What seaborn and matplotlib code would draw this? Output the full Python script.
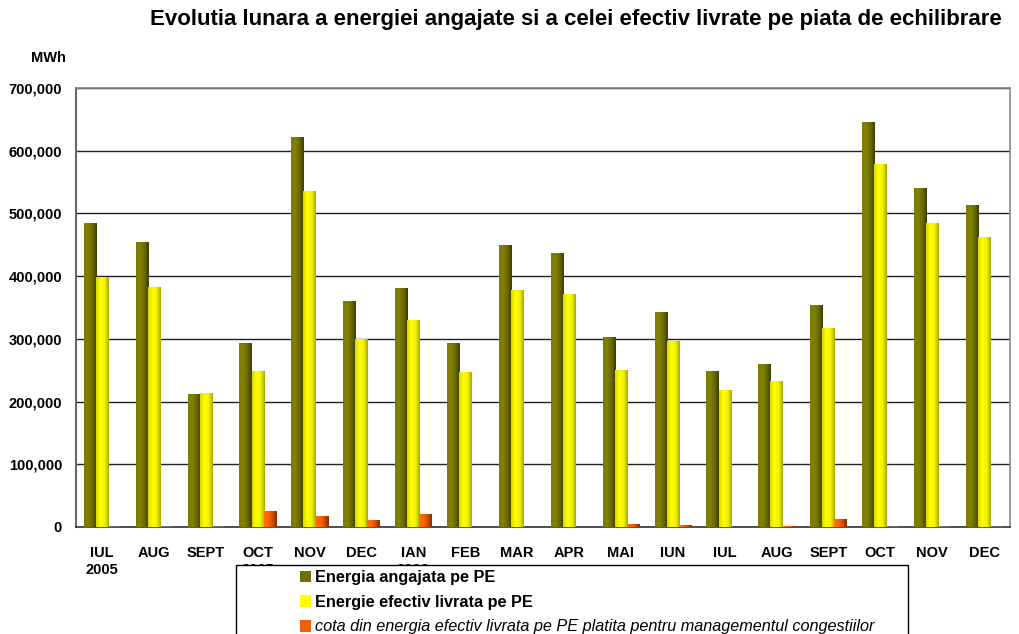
import numpy as np
import pandas as pd
import matplotlib
matplotlib.use("Agg")
import matplotlib.pyplot as plt
import seaborn as sns
from matplotlib.colors import LinearSegmentedColormap
from matplotlib.patches import Rectangle, Patch
from matplotlib.ticker import FuncFormatter, FixedLocator

# ---------------- data ----------------
month_keys = ["2005-07", "2005-08", "2005-09", "2005-10", "2005-11", "2005-12",
              "2006-01", "2006-02", "2006-03", "2006-04", "2006-05", "2006-06",
              "2006-07", "2006-08", "2006-09", "2006-10", "2006-11", "2006-12"]
tick_labels = ["IUL\n2005", "AUG", "SEPT", "OCT\n2005", "NOV", "DEC", "IAN\n2006", "FEB",
               "MAR", "APR", "MAI", "IUN", "IUL", "AUG", "SEPT", "OCT", "NOV", "DEC"]
energia_angajata = [485000, 455000, 212000, 293000, 622000, 360000, 381000, 293000, 450000,
                    437000, 303000, 343000, 249000, 260000, 354000, 646000, 541000, 514000]
energie_livrata = [398000, 383000, 214000, 249000, 536000, 299000, 330000, 247000, 378000,
                   372000, 250000, 297000, 219000, 233000, 318000, 579000, 485000, 463000]
cota_congestii = [0, 0, 0, 25500, 17500, 11000, 20700, 300, 300, 300, 4800, 3200,
                  500, 1600, 12800, 0, 0, 0]
series_names = ["Energia angajata pe PE", "Energie efectiv livrata pe PE",
                "cota din energia efectiv livrata pe PE platita pentru managementul congestiilor"]
title = "Evolutia lunara a energiei angajate si a celei efectiv livrate pe piata de echilibrare"

df = pd.DataFrame({
    "month": month_keys * 3,
    "value": energia_angajata + energie_livrata + cota_congestii,
    "series": [series_names[0]] * 18 + [series_names[1]] * 18 + [series_names[2]] * 18,
})

# ---------------- style ----------------
sns.set_style("white")
plt.rcParams["font.family"] = ["Liberation Sans", "DejaVu Sans"]
plt.rcParams["text.color"] = "black"
plt.rcParams["xtick.labelcolor"] = "black"
plt.rcParams["ytick.labelcolor"] = "black"

base_colors = ["#707000", "#FFFF00", "#F06000"]
grad_cmaps = [
    LinearSegmentedColormap.from_list("g0", ["#7c7c00", "#808000", "#6a6a00", "#3c3c00"]),
    LinearSegmentedColormap.from_list("g1", ["#d8d800", "#ffff00", "#f4f400", "#a8a800"]),
    LinearSegmentedColormap.from_list("g2", ["#ff7000", "#ff6600", "#d04c00", "#803000"]),
]

fig = plt.figure(figsize=(10.19, 6.34), dpi=100)
ax = fig.add_axes([76 / 1019, 1 - 527 / 634, (1010 - 76) / 1019, (527 - 88) / 634])

sns.barplot(data=df, x="month", y="value", hue="series", hue_order=series_names,
            order=month_keys, palette=base_colors, width=0.7, gap=0, dodge=True,
            legend=False, ax=ax, saturation=1, zorder=3)

ax.set_xlim(-0.5, 17.5)
ax.set_ylim(0, 700000)

# gradient fill for each bar
grad = np.linspace(0, 1, 64).reshape(1, -1)
for i, cont in enumerate(ax.containers):
    for bar in cont:
        h = bar.get_height()
        if h <= 0:
            continue
        x0, y0, w = bar.get_x(), bar.get_y(), bar.get_width()
        im = ax.imshow(grad, extent=[x0, x0 + w, y0, y0 + h], cmap=grad_cmaps[i],
                       aspect="auto", origin="lower", zorder=3.5, interpolation="bilinear")
        im.set_clip_path(bar)
        bar.set_edgecolor("none")
ax.set_aspect("auto")
ax.set_xlim(-0.5, 17.5)
ax.set_ylim(0, 700000)

# axes styling
ax.set_xlabel("")
ax.set_ylabel("")
ax.yaxis.grid(True, color="#222222", linewidth=1.0, zorder=0)
ax.set_axisbelow(True)
for side in ["top", "right"]:
    ax.spines[side].set_visible(True)
    ax.spines[side].set_color("#8a8a8a")
    ax.spines[side].set_linewidth(1.2)
ax.spines["left"].set_color("#666666")
ax.spines["left"].set_linewidth(1.5)
ax.spines["bottom"].set_color("#333333")
ax.spines["bottom"].set_linewidth(1.2)

ax.set_yticks(np.arange(0, 700001, 100000))
ax.yaxis.set_major_formatter(FuncFormatter(lambda v, p: f"{v:,.0f}"))
ax.tick_params(axis="y", direction="out", length=5, width=1.2, color="#666666",
               labelsize=10.5, pad=5, labelcolor="black")
for lab in ax.get_yticklabels():
    lab.set_fontweight("bold")

ax.set_xticks(range(18))
ax.set_xticklabels(tick_labels, fontsize=10.5, fontweight="bold", linespacing=1.25)
ax.tick_params(axis="x", which="major", length=0, pad=14, labelcolor="black")
ax.xaxis.set_minor_locator(FixedLocator(np.arange(-0.5, 18, 1)))
ax.tick_params(axis="x", which="minor", direction="out", length=5, width=1.2,
               color="#555555")

# title and unit label
fig.text(576 / 1019, 1 - 20 / 634, title, ha="center", va="center",
         fontsize=16, fontweight="bold", color="black")
fig.text(48 / 1019, 1 - 58 / 634, "MWh", ha="center", va="center",
         fontsize=10.5, fontweight="bold", color="black")

# legend box (extends beyond figure bottom as in reference)
box = Rectangle((236 / 1019, -0.05), (908 - 236) / 1019, (1 - 565 / 634) + 0.05,
                transform=fig.transFigure, facecolor="white", edgecolor="black",
                linewidth=1.0, zorder=5)
fig.add_artist(box)

handles = [Patch(facecolor=base_colors[0], edgecolor="none"),
           Patch(facecolor=base_colors[1], edgecolor="none"),
           Patch(facecolor=base_colors[2], edgecolor="none")]
leg = fig.legend(handles, series_names, loc="upper left",
                 bbox_to_anchor=(300 / 1019, 1 - 570 / 634), frameon=False,
                 fontsize=11.7, handlelength=0.7, handleheight=0.7, handletextpad=0.2,
                 labelspacing=0.6, borderaxespad=0, borderpad=0.0)
leg.set_zorder(6)
texts = leg.get_texts()
texts[0].set_fontweight("bold")
texts[1].set_fontweight("bold")
texts[2].set_fontstyle("italic")
for t in texts:
    t.set_color("black")

fig.savefig("out.png", dpi=100)
